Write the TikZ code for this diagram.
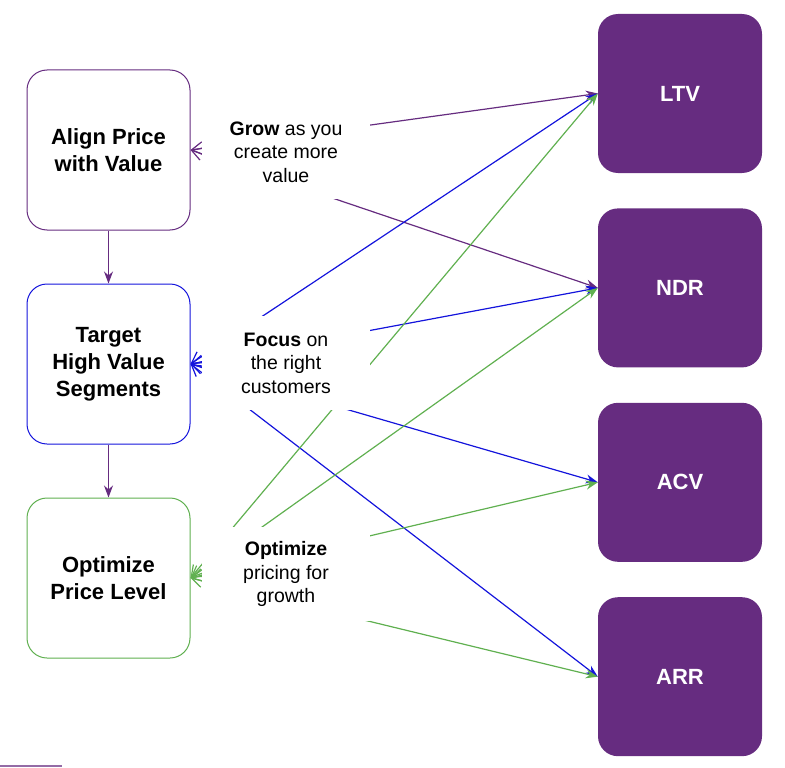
\documentclass[tikz,border=0pt]{standalone}
\usepackage{fontspec}
\setmainfont{Liberation Sans}
\usepackage{tikz}
\usetikzlibrary{arrows.meta,positioning,backgrounds}
\definecolor{PVc}{RGB}{102,44,128}
\definecolor{BLc}{RGB}{20,20,220}
\definecolor{GRc}{RGB}{96,176,80}
\tikzset{
  stepbox/.style={rounded corners=20pt,draw,line width=1pt,fill=white,
                  minimum width=163pt,minimum height=160pt,align=center,
                  font=\fontsize{22}{27}\selectfont\bfseries,inner sep=2pt},
  metric/.style={rounded corners=20pt,fill=PVc,text=white,
                 minimum width=164pt,minimum height=159pt,
                 font=\fontsize{22}{27}\selectfont\bfseries},
  note/.style={fill=white,minimum width=168pt,minimum height=94pt,align=center,
               font=\fontsize{19.5}{23.5}\selectfont,inner sep=0pt},
  link/.style={{Straight Barb[length=11pt,width=13pt]}-{Stealth[length=12pt,width=9pt]},
               line width=1.2pt},
  down/.style={-{Stealth[length=12pt,width=9pt]},line width=1.2pt,PVc},
}
\begin{document}
\begin{tikzpicture}[x=1pt,y=-1pt]
  \useasboundingbox (0,0) rectangle (785,768);
  % left column
  \node[stepbox,draw=PVc] (align) at (108.5,150) {Align Price\\with Value};
  \node[stepbox,draw=BLc,below=53pt of align] (target) {Target\\High Value\\Segments};
  \node[stepbox,draw=GRc,below=53pt of target] (optim) {Optimize\\Price Level};
  % right column
  \node[metric] (ltv) at (680,93.5) {LTV};
  \node[metric,below=35pt of ltv] (ndr) {NDR};
  \node[metric,below=35pt of ndr] (acv) {ACV};
  \node[metric,below=35pt of acv] (arr) {ARR};
  % notes over the links
  \node[note] (grow) at (286,152) {\textbf{Grow} as you\\create more\\value};
  \node[note] (focus) at (286,363) {\textbf{Focus} on\\the right\\customers};
  \node[note] (pricing) at (286,574) {\textbf{Optimize}\\pricing for\\growth};
  \begin{scope}[on background layer]
    \draw[link,PVc] (align.east) -- (ltv.west);
    \draw[link,PVc] (align.east) -- (ndr.west);
    \draw[link,BLc] (target.east) -- (ltv.west);
    \draw[link,BLc] (target.east) -- (ndr.west);
    \draw[link,BLc] (target.east) -- (acv.west);
    \draw[link,BLc] (target.east) -- (arr.west);
    \draw[link,GRc] (optim.east) -- (ltv.west);
    \draw[link,GRc] (optim.east) -- (ndr.west);
    \draw[link,GRc] (optim.east) -- (acv.west);
    \draw[link,GRc] (optim.east) -- (arr.west);
  \end{scope}
  \draw[down] (align) -- (target);
  \draw[down] (target) -- (optim);
  \draw[PVc!70,line width=1.5pt] (0,766) -- (62,766);
\end{tikzpicture}
\end{document}
